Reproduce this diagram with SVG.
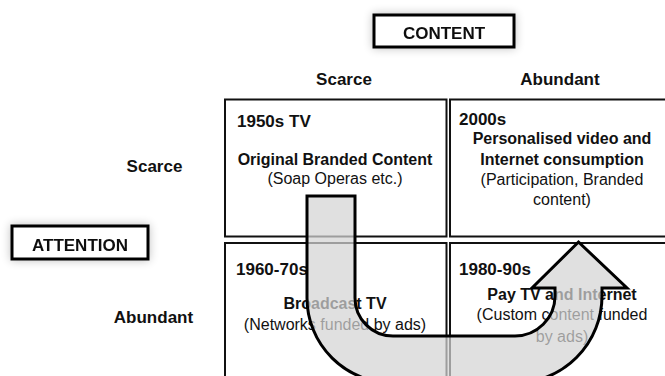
<svg xmlns="http://www.w3.org/2000/svg" width="665" height="376" viewBox="0 0 665 376">
<defs>
<filter id="glow" x="-20%" y="-40%" width="140%" height="180%">
<feGaussianBlur in="SourceAlpha" stdDeviation="5"/>
<feComponentTransfer><feFuncA type="linear" slope="0.25"/></feComponentTransfer>
<feMerge><feMergeNode/><feMergeNode in="SourceGraphic"/></feMerge>
</filter>
</defs>
<style>
text{font-family:"Liberation Sans",Arial,sans-serif;fill:#111}
.b{font-weight:bold}
.h{font-weight:bold;font-size:17px}
.t{font-size:16px}
.c{text-anchor:middle}
.cell{fill:#fff;stroke:#111;stroke-width:2}
.lbl{fill:#fff;stroke:#000;stroke-width:3}
.arrow{fill:#d4d4d4;fill-opacity:0.72;stroke:#000;stroke-width:3;stroke-linejoin:miter}
</style>
<rect width="665" height="376" fill="#fff"/>
<g id="content-label" filter="url(#glow)">
<rect class="lbl" x="374" y="15" width="140" height="32"/>
<text class="h c" x="444" y="39">CONTENT</text>
</g>
<g id="attention-label" filter="url(#glow)">
<rect class="lbl" x="12" y="226" width="136" height="33"/>
<text class="h c" x="80" y="251">ATTENTION</text>
</g>
<g id="col-headers">
<text class="h c" x="344" y="85">Scarce</text>
<text class="h c" x="560" y="85">Abundant</text>
</g>
<g id="row-headers">
<text class="h c" x="154.5" y="172">Scarce</text>
<text class="h c" x="153.5" y="323">Abundant</text>
</g>
<g id="cell-1950s">
<rect class="cell" x="225" y="99.5" width="221.5" height="137"/>
<text class="h" x="237" y="127">1950s TV</text>
<text class="t b c" x="335" y="165">Original Branded Content</text>
<text class="t c" x="335" y="184">(Soap Operas etc.)</text>
</g>
<g id="cell-2000s">
<rect class="cell" x="450" y="99.5" width="220" height="137"/>
<text class="h" x="459" y="125">2000s</text>
<text class="t b c" x="562" y="144">Personalised video and</text>
<text class="t b c" x="562" y="165">Internet consumption</text>
<text class="t c" x="562" y="185">(Participation, Branded</text>
<text class="t c" x="562" y="205">content)</text>
</g>
<g id="cell-1960s">
<rect class="cell" x="225" y="243" width="221.5" height="140"/>
<text class="h" x="236" y="275">1960-70s</text>
<text class="t b c" x="335" y="309">Broadcast TV</text>
<text class="t c" x="335" y="330">(Networks funded by ads)</text>
</g>
<g id="cell-1980s">
<rect class="cell" x="450" y="243" width="220" height="140"/>
<text class="h" x="459" y="275">1980-90s</text>
<text class="t b c" x="562" y="300">Pay TV and Internet</text>
<text class="t c" x="562" y="320">(Custom content funded</text>
<text class="t c" x="562" y="342">by ads)</text>
</g>
<g id="connectors">
<path class="arrow" d="M 307 196 L 355 196 L 355 298 A 38 38 0 0 0 393 336 L 515 336 A 40 40 0 0 0 555 296 L 555 288 L 532 288 L 578.5 242 L 627 288 L 602 288 L 602 296 A 87 87 0 0 1 515 383 L 393 383 A 86 85 0 0 1 307 298 Z"/>
</g>
</svg>
